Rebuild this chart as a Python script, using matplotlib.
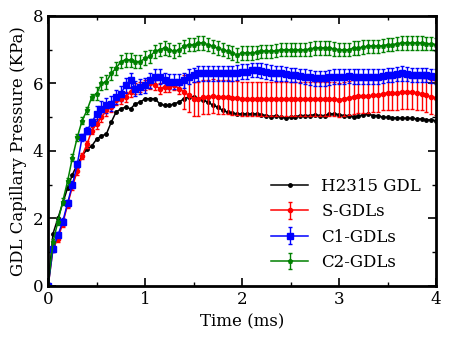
import numpy as np
import matplotlib
matplotlib.use("Agg")
import matplotlib.pyplot as plt
from matplotlib.ticker import MultipleLocator

plt.rcParams['font.family'] = 'DejaVu Serif'
plt.rcParams['mathtext.fontset'] = 'dejavuserif'

# time samples (ms), every 0.05 ms
time_ms = np.linspace(0, 4, 81)

h2315 = [0, 1.55, 2.0, 2.45, 2.9, 3.3, 3.6, 3.85, 4.05, 4.15, 4.35,
         4.45, 4.5, 4.85, 5.15, 5.25, 5.3, 5.25, 5.4, 5.45, 5.55,
         5.55, 5.55, 5.4, 5.35, 5.35, 5.4, 5.45, 5.55, 5.6, 5.6,
         5.55, 5.5, 5.45, 5.35, 5.3, 5.2, 5.15, 5.12, 5.1, 5.1,
         5.1, 5.1, 5.1, 5.08, 5.05, 5.02, 5.05, 5.0, 4.98, 5.0,
         5.02, 5.05, 5.05, 5.05, 5.08, 5.05, 5.05, 5.1, 5.1, 5.08,
         5.05, 5.05, 5.02, 5.03, 5.08, 5.1, 5.05, 5.05, 5.0, 5.0,
         4.98, 4.98, 4.97, 4.97, 4.97, 4.95, 4.95, 4.92, 4.92, 4.9]

s_gdl = [0, 1.1, 1.4, 1.85, 2.4, 2.95, 3.4, 3.85, 4.2, 4.6, 4.8,
         5.0, 5.2, 5.3, 5.5, 5.55, 5.6, 5.75, 5.85, 5.9, 5.95,
         6.0, 5.95, 5.85, 5.9, 5.9, 5.95, 5.85, 5.75, 5.65, 5.55,
         5.55, 5.6, 5.6, 5.62, 5.6, 5.6, 5.6, 5.58, 5.58, 5.55,
         5.55, 5.55, 5.55, 5.55, 5.55, 5.55, 5.55, 5.55, 5.55, 5.55,
         5.55, 5.55, 5.55, 5.55, 5.55, 5.55, 5.55, 5.55, 5.55, 5.52,
         5.55, 5.58, 5.6, 5.62, 5.62, 5.62, 5.65, 5.65, 5.7, 5.72,
         5.72, 5.72, 5.75, 5.75, 5.75, 5.72, 5.7, 5.65, 5.6, 5.58]
s_err = [0.1] * 10 + [0.15] * 18 + [0.5] * 53

c1_gdl = [0, 1.1, 1.5, 1.9, 2.45, 3.0, 3.6, 4.4, 4.6, 4.85, 5.1,
          5.25, 5.35, 5.4, 5.6, 5.7, 5.95, 6.1, 5.85, 5.9, 5.95,
          6.1, 6.2, 6.2, 6.1, 6.05, 6.05, 6.05, 6.1, 6.2, 6.25,
          6.3, 6.3, 6.3, 6.3, 6.3, 6.3, 6.3, 6.3, 6.32, 6.35,
          6.35, 6.4, 6.4, 6.38, 6.35, 6.32, 6.3, 6.3, 6.28, 6.25,
          6.25, 6.22, 6.2, 6.18, 6.15, 6.15, 6.15, 6.18, 6.2, 6.2,
          6.2, 6.22, 6.2, 6.2, 6.2, 6.2, 6.2, 6.2, 6.22, 6.25,
          6.25, 6.28, 6.3, 6.28, 6.25, 6.25, 6.25, 6.25, 6.22, 6.2]
c1_err = [0.1] * 10 + [0.22] * 71

c2_gdl = [0, 1.3, 1.9, 2.5, 3.1, 3.8, 4.4, 4.9, 5.2, 5.6, 5.7,
          6.0, 6.05, 6.3, 6.45, 6.65, 6.7, 6.7, 6.65, 6.65, 6.75,
          6.8, 6.95, 7.0, 7.05, 7.0, 6.95, 7.0, 7.1, 7.15, 7.15,
          7.2, 7.2, 7.15, 7.1, 7.05, 7.0, 6.95, 6.9, 6.85, 6.9,
          6.9, 6.9, 6.92, 6.95, 6.95, 6.95, 6.97, 7.0, 7.0, 7.0,
          7.0, 7.0, 7.0, 7.02, 7.05, 7.05, 7.05, 7.05, 7.02, 7.0,
          7.0, 7.0, 7.05, 7.05, 7.08, 7.1, 7.1, 7.1, 7.12, 7.15,
          7.15, 7.18, 7.2, 7.2, 7.2, 7.2, 7.2, 7.18, 7.18, 7.15]
c2_err = [0.1] * 10 + [0.2] * 71

fig, ax = plt.subplots(figsize=(4.5, 3.4), dpi=100)

ax.plot(time_ms, h2315, '-o', color='black', ms=2.5, lw=1.1, label='H2315 GDL')
ax.errorbar(time_ms, s_gdl, yerr=s_err, fmt='-o', color='red', ms=3, lw=1.1,
            elinewidth=1, capsize=1.5, label='S-GDLs')
ax.errorbar(time_ms, c1_gdl, yerr=c1_err, fmt='-s', color='blue', ms=4, lw=1.1,
            elinewidth=1, capsize=1.5, label='C1-GDLs')
ax.errorbar(time_ms, c2_gdl, yerr=c2_err, fmt='-p', color='green', ms=3, lw=1.1,
            elinewidth=1, capsize=1.5, label='C2-GDLs')

ax.set_xlim(0, 4)
ax.set_ylim(0, 8)
ax.xaxis.set_major_locator(MultipleLocator(1))
ax.xaxis.set_minor_locator(MultipleLocator(0.5))
ax.yaxis.set_major_locator(MultipleLocator(2))
ax.yaxis.set_minor_locator(MultipleLocator(1))
ax.tick_params(which='both', direction='in', top=True, right=True, labelsize=12)
ax.tick_params(which='major', length=6, width=1.2)
ax.tick_params(which='minor', length=3, width=1)
for s in ax.spines.values():
    s.set_linewidth(2)

ax.set_xlabel('Time (ms)', fontsize=12)
ax.set_ylabel('GDL Capillary Pressure (KPa)', fontsize=12)
ax.legend(loc='lower right', frameon=False, fontsize=12, handlelength=2.2,
          labelspacing=0.5, bbox_to_anchor=(1.0, 0.0))

fig.subplots_adjust(left=0.107, right=0.969, top=0.953, bottom=0.159)
fig.savefig('out.png', dpi=100)
